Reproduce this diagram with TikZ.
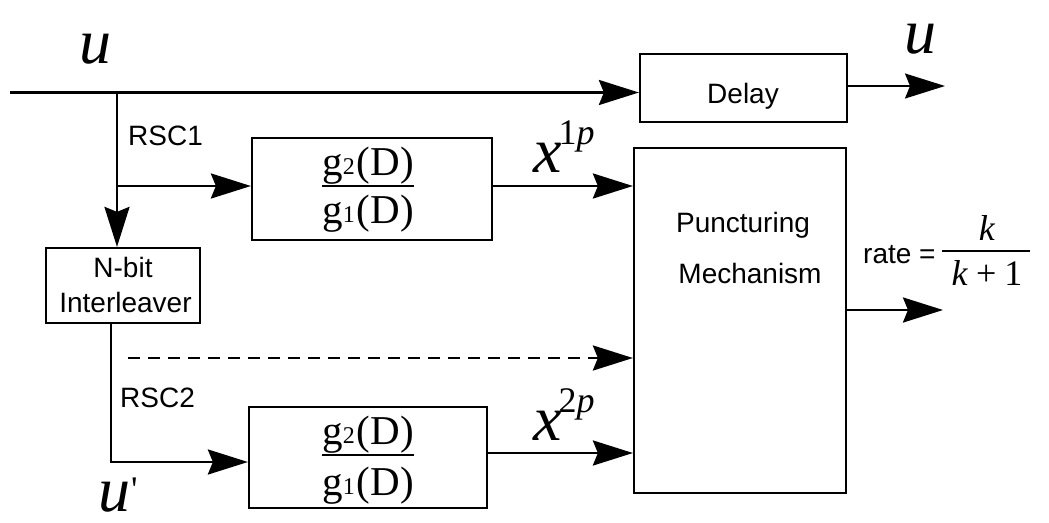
\documentclass[tikz,border=0pt]{standalone}
\usepackage{fontspec}
\setmainfont{Liberation Serif}
\newfontfamily\hv{Liberation Sans}
\usetikzlibrary{arrows.meta}
\tikzset{
  blk/.style={draw, line width=2.2pt, inner sep=0pt},
  lbl/.style={font=\hv\fontsize{28}{34}\selectfont, inner sep=0pt, anchor=base},
  sym/.style={font=\fontsize{64}{64}\selectfont\itshape, inner sep=0pt, anchor=base},
  gfn/.style={font=\fontsize{41}{42}\selectfont, inner sep=0pt, anchor=base},
  rfn/.style={font=\fontsize{36}{38}\selectfont, inner sep=0pt, anchor=base},
  tip/.style={-{Stealth[length=40pt,width=25pt,inset=5pt]}},
  flow/.style={line width=2.8pt, tip},
  thinflow/.style={line width=1.5pt, tip},
  fbar/.style={line width=1.8pt},
}
\newcommand{\gfrac}[1]{g{\fontsize{24}{24}\selectfont\raisebox{1pt}{#1}}\kern2pt(D)}
\begin{document}
\begin{tikzpicture}[x=1pt,y=-1pt]
\useasboundingbox (0,0) rectangle (1049,522);
% boxes
\node[blk, minimum width=207pt, minimum height=68pt] (delay) at (743.5,88) {};
\node[lbl] (delaytxt) at (743,103) {Delay};
\node[blk, minimum width=212pt, minimum height=345pt] (punc) at (740,320.5) {};
\node[lbl] (punctxt) at (743,232) {Puncturing};
\node[lbl] (mechtxt) at (750,283) {Mechanism};
\node[blk, minimum width=240pt, minimum height=102pt] (g1) at (372,189) {};
\node[blk, minimum width=238pt, minimum height=101pt] (g2) at (368,457.5) {};
\node[blk, minimum width=154pt, minimum height=75pt] (ilv) at (123,285.5) {};
\node[lbl] (ilv1) at (123,277) {N-bit};
\node[lbl] (ilv2) at (125.5,312) {Interleaver};
% fractions in g boxes
\node[gfn] (n1) at (368,175) {\gfrac{2}};
\node[gfn] (d1) at (368,223) {\gfrac{1}};
\draw[fbar] (n1.west |- 0,186) -- (n1.east |- 0,186);
\node[gfn] (n2) at (368,444) {\gfrac{2}};
\node[gfn] (d2) at (368,495) {\gfrac{1}};
\draw[fbar] (n2.west |- 0,455) -- (n2.east |- 0,455);
% coordinates
\coordinate (in) at (10,92.5);
\coordinate (j1) at (117,92.5);
\coordinate (j2) at (117,186);
\coordinate (c3) at (111,462);
\coordinate (d0) at (128,358);
\coordinate (y2) at (560,453);
\coordinate (out) at (943,310);
\coordinate (uout) at (945,86);
% connectors
\draw[flow] (in) -- (in -| delay.west);
\draw[flow] (j1) -- (j1 |- ilv.north);
\draw[flow] (j2) -- (j2 -| g1.west);
\draw[flow] (c3 |- ilv.south) -- (c3) -- (c3 -| g2.west);
\draw[flow, dash pattern=on 12pt off 8pt] (d0) -- (d0 -| punc.west);
\draw[flow] (j2 -| g1.east) -- (j2 -| punc.west);
\draw[flow] (y2 -| g2.east) -- (y2 -| punc.west);
\draw[flow] (out -| punc.east) -- (out);
\draw[thinflow] (uout -| delay.east) -- (uout);
% labels
\node[sym] (uin) at (95,63) {u};
\node[sym] (uo) at (920,53) {u};
\node[sym, anchor=base west] (up) at (98,511) {u\kern1pt\upshape\fontsize{36}{36}\selectfont\raisebox{10pt}{\textquotesingle}};
\node[sym, anchor=base west] (x1) at (533,172) {x\kern-3pt\upshape\fontsize{36}{36}\selectfont\raisebox{28pt}{1\textit{p}}};
\node[sym, anchor=base west] (x2) at (533,440) {x\kern-3pt\upshape\fontsize{36}{36}\selectfont\raisebox{28pt}{2\textit{p}}};
\node[lbl, anchor=base west] (rsc1) at (128,145) {RSC1};
\node[lbl, anchor=base west] (rsc2) at (120,407) {RSC2};
\node[lbl, anchor=base west] (rate) at (863,263) {rate =};
\node[rfn] (kn) at (987,240) {\textit{k}};
\node[rfn] (kd) at (987,285) {\textit{k}\hspace{8pt}+\hspace{8pt}1};
\draw[fbar] (942,251) -- (1030,251);
\end{tikzpicture}
\end{document}
